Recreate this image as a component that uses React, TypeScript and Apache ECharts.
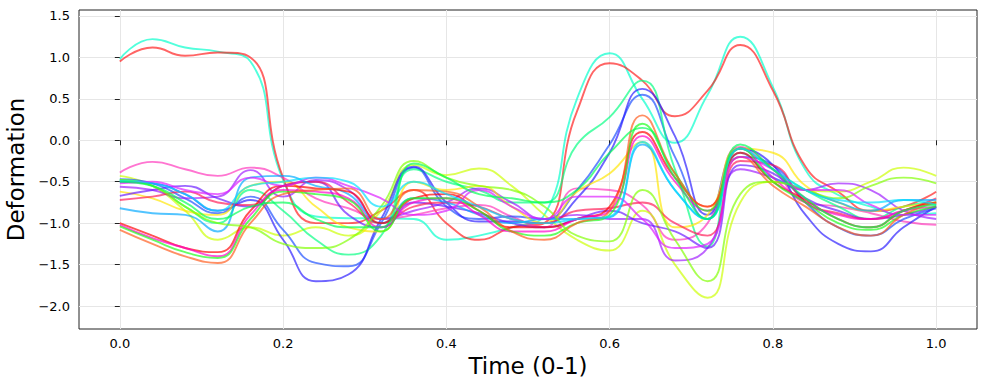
import React, { useEffect, useRef } from "react";
import * as echarts from "echarts";

const times = [0, 0.04, 0.08, 0.12, 0.16, 0.2, 0.24, 0.28, 0.32, 0.36, 0.4, 0.44, 0.48, 0.52, 0.56, 0.6, 0.64, 0.68, 0.72, 0.76, 0.8, 0.84, 0.88, 0.92, 0.96, 1.0];

const turquoise = [0.98, 1.22, 1.12, 1.07, 0.95, -0.48, -0.92, -0.94, -0.94, -0.95, -1.2, -1.15, -1.05, -0.9, 0.5, 1.05, 0.5, -0.03, 0.55, 1.25, 0.64, -0.36, -0.66, -0.8, -0.9, -0.88];
const redTop = [0.95, 1.12, 1.02, 1.06, 1.0, -0.45, -1.0, -1.0, -0.85, -0.6, -1.0, -1.2, -1.05, -1.0, 0.35, 0.93, 0.72, 0.29, 0.6, 1.15, 0.6, -0.32, -0.62, -0.85, -0.8, -0.62];
const hotPink = [-0.39, -0.26, -0.35, -0.43, -0.33, -0.45, -0.7, -0.82, -0.95, -0.9, -0.82, -0.78, -0.92, -1.05, -0.58, -0.6, -0.78, -1.2, -1.0, -0.08, -0.35, -0.75, -0.8, -0.88, -0.98, -1.02];
const chartreuse = [-0.43, -0.55, -0.85, -1.2, -1.05, -1.15, -1.05, -1.15, -0.85, -0.3, -0.42, -0.34, -0.55, -0.9, -1.2, -1.33, -0.85, -1.5, -1.9, -0.75, -0.5, -0.6, -0.62, -0.5, -0.33, -0.43];
const royalBlue = [-0.47, -0.52, -0.7, -0.88, -0.68, -1.08, -1.48, -1.52, -1.0, -0.33, -0.8, -0.95, -0.92, -0.95, -0.6, -0.05, 0.55, -0.2, -0.95, -0.2, -0.3, -0.75, -1.05, -1.15, -0.95, -0.82];
const springGreen = [-0.48, -0.55, -0.8, -1.0, -0.6, -0.85, -1.2, -1.38, -1.15, -0.35, -0.5, -0.6, -0.75, -0.75, -0.05, 0.28, 0.72, -0.35, -1.28, -0.1, -0.35, -0.6, -0.8, -0.95, -0.8, -0.75];
const indigo = [-0.5, -0.52, -0.65, -0.85, -0.72, -1.2, -1.7, -1.62, -0.95, -0.32, -0.75, -0.98, -0.98, -1.0, -0.7, -0.15, 0.62, 0.05, -0.9, -0.1, -0.3, -0.9, -1.25, -1.34, -1.05, -0.8];
const purple = [-0.56, -0.6, -0.7, -0.68, -0.36, -0.68, -0.48, -0.6, -0.95, -0.85, -0.75, -0.58, -0.75, -0.95, -0.9, -0.95, -0.95, -1.45, -1.3, -0.35, -0.45, -0.6, -0.52, -0.6, -0.85, -0.95];
const yellow = [-0.62, -0.7, -0.85, -0.9, -0.55, -0.5, -0.8, -1.05, -1.1, -0.5, -0.6, -0.55, -0.8, -1.0, -0.62, -0.4, -0.02, -1.05, -0.9, -0.1, -0.15, -0.55, -0.75, -0.85, -0.8, -0.75];
const violet = [-0.67, -0.6, -0.55, -0.7, -0.8, -0.55, -0.5, -0.9, -1.05, -0.75, -0.8, -0.88, -1.0, -1.05, -0.95, -0.85, -1.0, -1.1, -1.3, -0.3, -0.4, -0.7, -0.85, -0.95, -0.9, -0.8];
const crimson = [-0.72, -0.68, -0.62, -0.75, -0.78, -0.55, -0.5, -0.75, -1.0, -0.8, -0.75, -0.8, -0.95, -1.0, -0.85, -0.82, -0.75, -1.0, -1.15, -0.25, -0.3, -0.75, -0.88, -0.95, -0.85, -0.7];
const skyBlue = [-0.82, -0.88, -0.9, -1.1, -0.45, -0.43, -0.55, -0.65, -1.0, -0.7, -0.75, -0.9, -1.0, -0.95, -0.95, -0.93, -0.05, -0.6, -0.95, -0.15, -0.45, -0.6, -0.75, -0.85, -0.72, -0.72];
const redLow = [-1.0, -1.15, -1.3, -1.35, -0.85, -0.55, -0.58, -0.62, -1.0, -0.7, -0.65, -0.85, -1.05, -1.05, -0.95, -0.8, 0.1, -0.45, -0.8, -0.15, -0.5, -0.72, -0.95, -1.05, -0.85, -0.75];
const magenta = [-1.02, -1.18, -1.3, -1.4, -0.9, -0.6, -0.62, -0.7, -1.05, -0.75, -0.7, -0.9, -1.1, -1.1, -0.95, -0.85, 0.05, -0.5, -0.85, -0.1, -0.45, -0.75, -0.9, -0.95, -0.85, -0.8];
const green = [-1.04, -1.2, -1.35, -1.42, -0.95, -0.62, -0.65, -0.72, -1.1, -0.7, -0.7, -0.85, -1.1, -1.15, -1.0, -0.9, 0.2, -0.4, -0.85, -0.1, -0.5, -0.75, -1.0, -1.08, -0.9, -0.8];
const orange = [-1.08, -1.25, -1.4, -1.48, -1.0, -0.65, -0.6, -0.58, -0.95, -0.6, -0.62, -0.8, -1.1, -1.2, -1.0, -0.85, 0.3, -0.4, -0.8, -0.2, -0.55, -0.8, -1.05, -1.15, -0.9, -0.75];
const lime = [-0.48, -0.55, -0.8, -1.0, -1.05, -1.25, -1.3, -1.2, -0.8, -0.25, -0.45, -0.55, -0.6, -0.8, -1.15, -1.22, -0.6, -1.2, -1.7, -0.65, -0.5, -0.6, -0.7, -0.55, -0.45, -0.52];
const orchid = [-0.52, -0.5, -0.6, -0.65, -0.45, -0.55, -0.45, -0.55, -0.7, -0.9, -0.85, -0.6, -0.8, -0.95, -0.68, -0.68, -0.95, -1.3, -1.25, -0.2, -0.35, -0.6, -0.6, -0.78, -0.9, -0.9];
const cyan = [-0.49, -0.52, -0.65, -0.85, -0.55, -0.5, -0.45, -0.5, -0.8, -0.5, -0.65, -0.8, -0.95, -1.0, -0.95, -0.92, -0.02, -0.6, -0.95, -0.1, -0.35, -0.6, -0.72, -0.75, -0.72, -0.78];
const mint = [-0.5, -0.55, -0.75, -0.95, -0.8, -0.75, -0.95, -1.05, -1.05, -0.28, -0.45, -0.65, -0.7, -0.75, -0.6, -0.15, 0.15, -0.45, -0.95, -0.05, -0.35, -0.7, -0.95, -1.05, -0.85, -0.78];

const seriesList: [string, number[], string][] = [
  ["s1", turquoise, "#00ffcc"],
  ["s2", redTop, "#ff1a1a"],
  ["s3", hotPink, "#ff33bb"],
  ["s4", chartreuse, "#ccff00"],
  ["s5", royalBlue, "#1a4dff"],
  ["s6", springGreen, "#00ff80"],
  ["s7", indigo, "#2a1aff"],
  ["s8", purple, "#9f1aff"],
  ["s9", yellow, "#ffe600"],
  ["s10", violet, "#6a1aff"],
  ["s11", crimson, "#ff1a55"],
  ["s12", skyBlue, "#00a8ff"],
  ["s13", redLow, "#ff0000"],
  ["s14", magenta, "#ff00cc"],
  ["s15", green, "#1aff1a"],
  ["s16", orange, "#ff5a1a"],
  ["s17", lime, "#80ff00"],
  ["s18", orchid, "#dd1aff"],
  ["s19", cyan, "#00e0ff"],
  ["s20", mint, "#00ff55"],
];

const xTicks = [0, 0.2, 0.4, 0.6, 0.8, 1.0];
const yTicks = [-2.0, -1.5, -1.0, -0.5, 0.0, 0.5, 1.0, 1.5];

export default function App() {
  const ref = useRef<HTMLDivElement>(null);
  useEffect(() => {
    if (!ref.current) return;
    const chart = echarts.init(ref.current, null, { renderer: "svg" });
    chart.setOption({
      animation: false,
      backgroundColor: "#ffffff",
      grid: {
        left: 79,
        top: 10,
        width: 898,
        height: 319,
        show: true,
        borderColor: "#222",
        borderWidth: 1,
        backgroundColor: "transparent",
        containLabel: false,
        outerBoundsMode: "none",
      },
      xAxis: {
        type: "value",
        min: -0.05,
        max: 1.05,
        name: "Time (0-1)",
        nameLocation: "middle",
        nameGap: 24,
        nameTextStyle: { fontSize: 23, color: "#000", fontFamily: "'DejaVu Sans'" },
        axisLine: { show: false },
        axisTick: { show: true, customValues: xTicks, length: 5, lineStyle: { color: "#222" } },
        axisLabel: {
          customValues: xTicks,
          color: "#000",
          fontSize: 13,
          margin: 8,
          fontFamily: "'DejaVu Sans'",
          formatter: (v: number) => v.toFixed(1),
        },
        splitLine: { show: true, lineStyle: { color: "#e6e6e6", width: 1 } },
      },
      yAxis: {
        type: "value",
        min: -2.277,
        max: 1.572,
        name: "Deformation",
        nameLocation: "middle",
        nameGap: 46,
        nameTextStyle: { fontSize: 23, color: "#000", fontFamily: "'DejaVu Sans'" },
        axisLine: { show: false },
        axisTick: { show: true, customValues: yTicks, length: 5, lineStyle: { color: "#222" } },
        axisLabel: {
          customValues: yTicks,
          color: "#000",
          fontSize: 13,
          margin: 9,
          fontFamily: "'DejaVu Sans'",
          formatter: (v: number) => (v < 0 ? "\u2212" + Math.abs(v).toFixed(1) : v.toFixed(1)),
        },
        splitLine: { show: true, lineStyle: { color: "#e6e6e6", width: 1 } },
      },
      series: seriesList.map(([name, vals, color]) => ({
        name,
        type: "line",
        smooth: 0.5,
        showSymbol: false,
        data: times.map((t, i) => [t, vals[i]]),
        lineStyle: { color, width: 1.9, opacity: 0.68 },
        emphasis: { disabled: true },
      })),
    });
    return () => chart.dispose();
  }, []);
  return <div ref={ref} style={{ width: 987, height: 389, position: "absolute", left: 0, top: 0 }} />;
}
